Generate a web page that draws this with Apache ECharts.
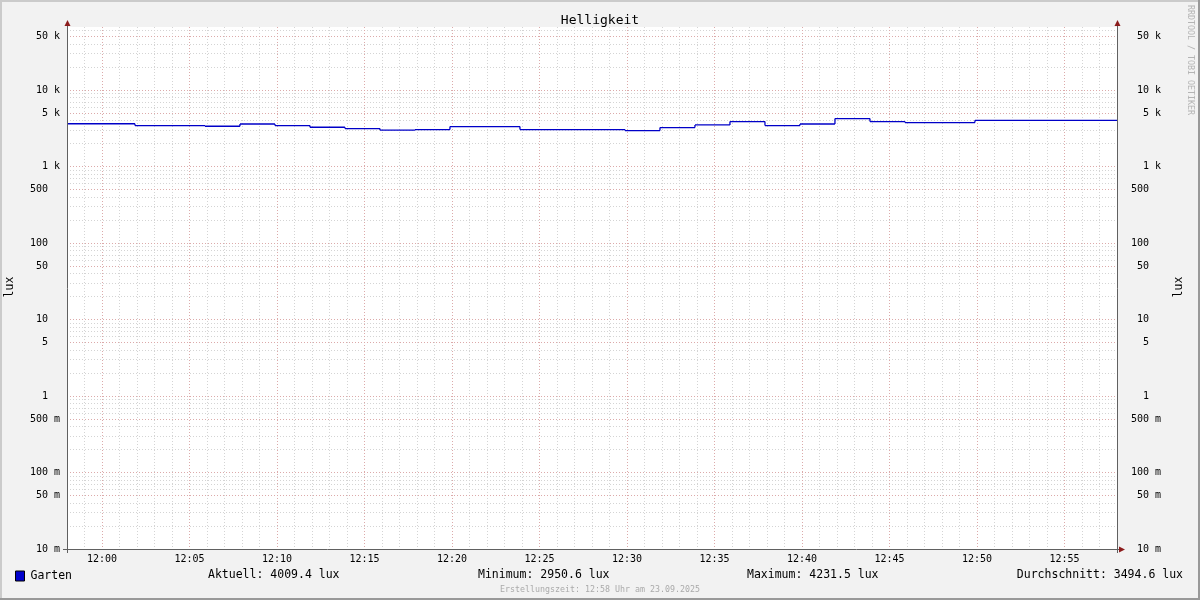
<!DOCTYPE html>
<html><head><meta charset="utf-8">
<script src="https://cdn.jsdelivr.net/npm/echarts@6/dist/echarts.min.js"></script>
<style>html,body{margin:0;padding:0;background:#f2f2f2}#c{width:1200px;height:600px}</style>
</head><body><div id="c"></div>
<script>
// ---- data ----
const startTime = '11:58:00';
const endTime = '12:58:00';
const stepTimes = ['11:58:00','12:01:53','12:05:53','12:07:53','12:09:53','12:11:53','12:13:53','12:15:53','12:17:53','12:19:53','12:23:53','12:29:53','12:31:53','12:33:53','12:35:53','12:37:53','12:39:53','12:41:53','12:43:53','12:45:53','12:49:53'];
const stepValues = [3618, 3428, 3356, 3596, 3428, 3257, 3132, 2990, 3039, 3326, 3039, 2950.6, 3228, 3490, 3866, 3428, 3596, 4231.5, 3866, 3751, 4009.4];
const xTickLabels = ['12:00','12:05','12:10','12:15','12:20','12:25','12:30','12:35','12:40','12:45','12:50','12:55'];
const yTickValues = [0.01, 0.05, 0.1, 0.5, 1, 5, 10, 50, 100, 500, 1000, 5000, 10000, 50000];
const yTickLabels = ['10 m','50 m','100 m','500 m','1  ','5  ','10  ','50  ','100  ','500  ','1 k','5 k','10 k','50 k'];
const yMinorFactors = [2, 3, 4, 6, 7, 8, 9];
const yMin = 0.01, yMax = 66600;
const seriesName = 'Garten';
const statNames = ['Aktuell', 'Minimum', 'Maximum', 'Durchschnitt'];
const statValues = [4009.4, 2950.6, 4231.5, 3494.6];
const unit = 'lux';
const titleText = 'Helligkeit';
const footerText = 'Erstellungszeit: 12:58 Uhr am 23.09.2025';
const watermark = 'RRDTOOL / TOBI OETIKER';

// ---- helpers ----
function t(s) { const p = s.split(':').map(Number); return Date.UTC(2025, 8, 23, p[0], p[1], p[2] || 0); }
function pad(n) { return (n < 10 ? '0' : '') + n; }
const tStart = t(startTime), tEnd = t(endTime);
// Step line drawn as separate pieces (riser, then level), split by gaps so no
// tiny riser can be merged into a sloped segment.
const data = [];
stepTimes.forEach((s, i) => {
  const x0 = t(s);
  const x1 = i + 1 < stepTimes.length ? t(stepTimes[i + 1]) : tEnd;
  if (i > 0) { data.push([x0, stepValues[i - 1]], [x0, stepValues[i]], [x0, '-']); }
  data.push([x0, stepValues[i]], [x1, stepValues[i]], [x1, '-']);
});
const xMajor = xTickLabels.map(s => t(s + ':00'));
const xMinor = [];
for (let v = tStart + 60000; v < tEnd; v += 60000) { if (xMajor.indexOf(v) < 0) xMinor.push(v); }
const yMinor = [];
for (let e = -2; e <= 4; e++) yMinorFactors.forEach(f => { const v = f * Math.pow(10, e); if (v <= yMax) yMinor.push(v); });
const yMajorGrid = yTickValues.filter(v => v > yMin);
function yLabel(v) {
  const i = yTickValues.findIndex(x => Math.abs(Math.log10(x) - Math.log10(v)) < 1e-6);
  return i >= 0 ? yTickLabels[i] : '';
}
const MONO = 'DejaVu Sans Mono';
const majorGrid = { show: true, lineStyle: { color: '#dcaaaa', width: 1, type: [1, 2] } };
const minorGrid = { show: true, lineStyle: { color: '#d4d4d4', width: 1, type: [1, 2] } };
const L = 67, R = 1117, T = 27, B = 549;

const chart = echarts.init(document.getElementById('c'), null, { renderer: 'canvas' });
const graphic = [
  { type: 'rect', shape: { x: 0, y: 0, width: 1200, height: 2 }, style: { fill: '#cbcbcb' }, silent: true },
  { type: 'rect', shape: { x: 0, y: 0, width: 2, height: 600 }, style: { fill: '#cbcbcb' }, silent: true },
  { type: 'rect', shape: { x: 0, y: 598, width: 1200, height: 2 }, style: { fill: '#999' }, silent: true },
  { type: 'rect', shape: { x: 1198, y: 0, width: 2, height: 600 }, style: { fill: '#999' }, silent: true },
  { type: 'text', x: 600, y: 21, style: { text: titleText, font: '13px "' + MONO + '"', fill: '#000', align: 'center', verticalAlign: 'middle' } },
  { type: 'text', x: 10, y: 287, rotation: Math.PI / 2, style: { text: unit, font: '11.5px "' + MONO + '"', fill: '#000', align: 'center', verticalAlign: 'middle' } },
  { type: 'text', x: 1179, y: 287, rotation: Math.PI / 2, style: { text: unit, font: '11.5px "' + MONO + '"', fill: '#000', align: 'center', verticalAlign: 'middle' } },
  { type: 'text', x: 1190, y: 60, rotation: -Math.PI / 2, style: { text: watermark, font: '8.3px "' + MONO + '"', fill: '#b4b4b4', align: 'center', verticalAlign: 'middle' } },
  { type: 'text', x: 600, y: 590, style: { text: footerText, font: '8.3px "' + MONO + '"', fill: '#aaa', align: 'center', verticalAlign: 'middle' } },
  // axis lines (extending past the plot as rrdtool does) and arrows
  { type: 'line', z: 100, shape: { x1: L + 0.5, y1: B + 4, x2: L + 0.5, y2: T - 3 }, style: { stroke: '#606060', lineWidth: 1 }, silent: true },
  { type: 'line', z: 100, shape: { x1: R + 0.5, y1: B + 4, x2: R + 0.5, y2: T - 3 }, style: { stroke: '#606060', lineWidth: 1 }, silent: true },
  { type: 'line', z: 100, shape: { x1: L - 4, y1: B + 0.5, x2: R + 4, y2: B + 0.5 }, style: { stroke: '#606060', lineWidth: 1 }, silent: true },
  { type: 'polygon', z: 100, shape: { points: [[L - 2.5, T - 1], [L + 3.5, T - 1], [L + 0.5, T - 7]] }, style: { fill: '#8c1c1c' }, silent: true },
  { type: 'polygon', z: 100, shape: { points: [[R - 2.5, T - 1], [R + 3.5, T - 1], [R + 0.5, T - 7]] }, style: { fill: '#8c1c1c' }, silent: true },
  { type: 'polygon', z: 100, shape: { points: [[R + 2, B - 2.5], [R + 2, B + 3.5], [R + 8, B + 0.5]] }, style: { fill: '#8c1c1c' }, silent: true }
];
const statX = [208, 478, 747, 1183];
statNames.forEach((n, i) => {
  graphic.push({ type: 'text', x: statX[i], y: 575, style: { text: n + ': ' + statValues[i].toFixed(1) + ' ' + unit, font: '11.5px "' + MONO + '"', fill: '#000', align: i === 3 ? 'right' : 'left', verticalAlign: 'middle' } });
});

chart.setOption({
  animation: false,
  backgroundColor: '#f2f2f2',
  grid: { left: L, right: 1200 - R, top: T, bottom: 600 - B, show: true, backgroundColor: '#fff', borderWidth: 0, containLabel: false },
  legend: {
    show: true, left: 15, top: 570, padding: 0, itemWidth: 9, itemHeight: 10, itemGap: 10,
    icon: 'rect', data: [seriesName],
    itemStyle: { color: '#0000cc', borderColor: '#000', borderWidth: 1 },
    textStyle: { fontFamily: MONO, fontSize: 11.5, color: '#000', padding: [0, 0, 0, 1] }
  },
  xAxis: [
    { type: 'value', min: tStart, max: tEnd, position: 'bottom',
      axisLine: { show: false },
      axisTick: { show: false, customValues: xMajor },
      axisLabel: { customValues: xMajor, fontFamily: MONO, fontSize: 10, color: '#000', margin: 5,
        formatter: v => { const d = new Date(v); return pad(d.getUTCHours()) + ':' + pad(d.getUTCMinutes()); } },
      splitLine: majorGrid, z: 2 },
    { type: 'value', min: tStart, max: tEnd, position: 'bottom',
      axisLine: { show: false }, axisTick: { show: false, customValues: xMinor }, axisLabel: { show: false },
      splitLine: minorGrid, z: 1 }
  ],
  yAxis: [
    { type: 'log', logBase: 10, min: yMin, max: yMax, position: 'left',
      axisLine: { show: false },
      axisTick: { show: false, customValues: yMajorGrid },
      axisLabel: { customValues: yTickValues, fontFamily: MONO, fontSize: 10, color: '#000', margin: 7, formatter: yLabel, padding: [3, 0, 0, 0] },
      splitLine: majorGrid, z: 2 },
    { type: 'log', logBase: 10, min: yMin, max: yMax, position: 'left',
      axisLine: { show: false }, axisTick: { show: false, customValues: yMinor }, axisLabel: { show: false },
      splitLine: minorGrid, z: 1 },
    { type: 'log', logBase: 10, min: yMin, max: yMax, position: 'right',
      axisLine: { show: false }, axisTick: { show: false, customValues: yTickValues },
      axisLabel: { customValues: yTickValues, fontFamily: MONO, fontSize: 10, color: '#000', margin: 44, align: 'right', formatter: yLabel, padding: [3, 0, 0, 0] },
      splitLine: { show: false } }
  ],
  series: [{
    name: seriesName, type: 'line', xAxisIndex: 0, yAxisIndex: 0, connectNulls: false,
    data: data, showSymbol: false, symbol: 'none', clip: true, z: 5, smooth: false,
    lineStyle: { color: '#0000c8', width: 1.3 }, itemStyle: { color: '#0000cc' }
  }],
  graphic: graphic
});
</script></body></html>
